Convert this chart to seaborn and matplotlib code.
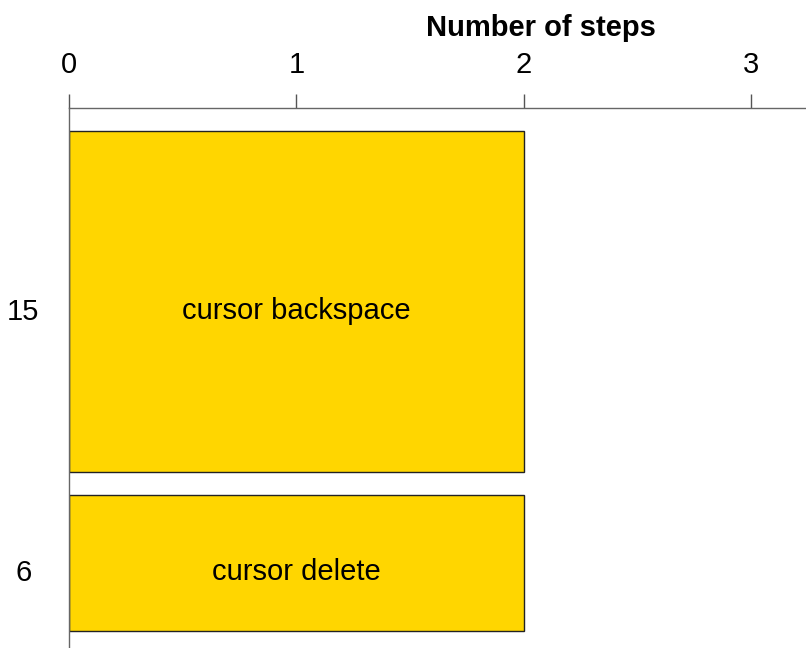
import matplotlib
matplotlib.use('Agg')
import matplotlib.pyplot as plt
import matplotlib.transforms as mtransforms
import seaborn as sns
import pandas as pd

# data
actions = ['cursor backspace', 'cursor delete']
steps = [2, 2]
counts = [15, 6]
xticks = [0, 1, 2, 3]

# bar thickness follows the count, with a fixed gap between bars
gap = 1.0
bottoms = []
pos = gap
for c in counts:
    bottoms.append(pos)
    pos += c + gap
centers = [b + c / 2 for b, c in zip(bottoms, counts)]

sns.set_style('white')
plt.rcParams['font.family'] = ['Liberation Sans', 'DejaVu Sans']

fig = plt.figure(figsize=(8.06, 6.48), dpi=100)
ax = fig.add_axes([69 / 806, 0, 1 - 69 / 806, 540 / 648])

df = pd.DataFrame({'action': actions, 'steps': steps})
sns.barplot(data=df, x='steps', y='action', orient='h', color='#FFD600',
            saturation=1, edgecolor='#222222', linewidth=1, ax=ax)
for patch, b, c in zip(ax.patches, bottoms, counts):
    patch.set_y(b)
    patch.set_height(c)

ax.set_xlim(0, 3.24)
ax.set_ylim(pos - 0.25, 0)

# top x axis
ax.xaxis.tick_top()
ax.xaxis.set_label_position('top')
ax.set_xticks(xticks)
ax.set_xticklabels([str(t) for t in xticks])
ax.tick_params(axis='x', direction='out', length=10, width=1, color='#555555',
               pad=11, labelsize=21, labelcolor='black')
ax.set_xlabel('Number of steps', fontsize=21, fontweight='bold', color='black')
ax.xaxis.set_label_coords(0.641, 1.133)

# y labels = counts
ax.set_yticks(centers)
ax.set_yticklabels([str(c) for c in counts])
ax.set_ylabel('')
ax.tick_params(axis='y', length=0, pad=33, labelsize=21, labelcolor='black')
offset = mtransforms.ScaledTranslation(0, -18.5 / 100, fig.dpi_scale_trans)
for lab in ax.get_yticklabels():
    lab.set_verticalalignment('baseline')
    lab.set_horizontalalignment('center')
    lab.set_transform(lab.get_transform() + offset)

# text inside bars
for a, s, cy in zip(actions, steps, centers):
    ax.annotate(a, (s / 2, cy), xytext=(0, -12.5), textcoords='offset points',
                ha='center', va='baseline', fontsize=21, color='black')

for side in ['right', 'bottom']:
    ax.spines[side].set_visible(False)
for side in ['top', 'left']:
    ax.spines[side].set_visible(True)
    ax.spines[side].set_color('#666666')
    ax.spines[side].set_linewidth(1)

fig.savefig('out.png', dpi=100)
